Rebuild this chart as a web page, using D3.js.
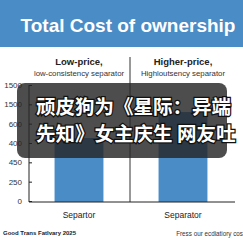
<!DOCTYPE html>
<html>
<head>
<meta charset="utf-8">
<script src="https://cdn.jsdelivr.net/npm/d3@7"></script>
<style>
  body { margin: 0; background: #fff; }
  svg { display: block; font-family: "Liberation Sans", Arial, sans-serif; }
</style>
</head>
<body>
<div id="chart"></div>
<script>
// dados do gráfico
const categories = ["Separtor", "Separator"];
const values = [815, 1150];
const tickValues = [0, 250, 500, 750, 1000, 1250, 1500];
const tickLabels = ["0", "250", "450", "400", "600", "1500", "1500"];
const headTitles = ["Low-price,", "Higher-price,"];
const headSubs = ["low-consistency separator", "Highloutsency separator"];
const overlayLines = ["顽皮狗为《星际：异端", "先知》女主庆生 网友吐"];

const width = 243, height = 243;
const blue = "#4a8cc6";

const svg = d3.select("#chart").append("svg")
    .attr("width", width)
    .attr("height", height);

// faixa do título
svg.append("rect").attr("x", 0).attr("y", 0).attr("width", width).attr("height", 47).attr("fill", blue);
svg.append("text")
    .attr("x", 128).attr("y", 32)
    .attr("text-anchor", "middle")
    .attr("fill", "#fff")
    .style("font-size", "19px")
    .style("font-weight", "bold")
    .text("Total Cost of ownership");

// escalas
const x = d3.scaleBand().domain(categories).range([27, 235]).padding(0);
const y = d3.scaleLinear().domain([0, 1500]).range([201, 85]);
const barW = x.bandwidth() * 0.47;

// cabeçalhos das colunas
categories.forEach((c, i) => {
    const cx = x(c) + x.bandwidth() / 2;
    svg.append("text").attr("x", cx).attr("y", 65).attr("text-anchor", "middle")
        .style("font-size", "9.5px").style("font-weight", "bold").attr("fill", "#222")
        .text(headTitles[i]);
    svg.append("text").attr("x", cx).attr("y", 76).attr("text-anchor", "middle")
        .style("font-size", "7.8px").attr("fill", "#333")
        .text(headSubs[i]);
});

// barras
svg.selectAll("rect.bar")
    .data(values)
    .enter().append("rect")
    .attr("class", "bar")
    .attr("x", (d, i) => x(categories[i]) + (x.bandwidth() - barW) / 2)
    .attr("y", d => y(d))
    .attr("width", barW)
    .attr("height", d => y(0) - y(d) + 1)
    .attr("fill", blue);

// divisor
const divX = x(categories[1]) - 1;
svg.append("line").attr("x1", divX).attr("x2", divX).attr("y1", 57).attr("y2", 202)
    .attr("stroke", "#333").attr("stroke-width", 1);

// eixo Y
const yAxis = svg.append("g").attr("transform", "translate(29,0)")
    .call(d3.axisLeft(y).tickValues(tickValues).tickFormat((d, i) => tickLabels[i]).tickSize(-3).tickPadding(7));
yAxis.select(".domain").remove();
yAxis.selectAll("text").style("font-size", "8px").attr("fill", "#333").style("font-family", "Liberation Sans, Arial, sans-serif");
yAxis.selectAll("line").attr("stroke", "#222");
svg.append("line").attr("x1", 29).attr("x2", 29).attr("y1", 85).attr("y2", 202).attr("stroke", "#222");

// eixo X
svg.append("line").attr("x1", 29).attr("x2", 235).attr("y1", 202).attr("y2", 202).attr("stroke", "#222");
svg.selectAll("text.xlab")
    .data(categories)
    .enter().append("text")
    .attr("class", "xlab")
    .attr("x", d => x(d) + x.bandwidth() / 2)
    .attr("y", 218)
    .attr("text-anchor", "middle")
    .style("font-size", "8.5px")
    .attr("fill", "#222")
    .text(d => d);

// rodapé
svg.append("text").attr("x", 3).attr("y", 235)
    .style("font-size", "6px").style("font-weight", "bold").attr("fill", "#222")
    .text("Good Trans Fatlvary 2025");
svg.append("text").attr("x", 243).attr("y", 236).attr("text-anchor", "end")
    .style("font-size", "6.3px").attr("fill", "#333")
    .text("Fress our ecdiatiory cos");

// sobreposição escura com texto chinês
svg.append("rect").attr("x", 17).attr("y", 83).attr("width", 210).attr("height", 75)
    .attr("rx", 8).attr("fill", "rgba(38,38,38,0.82)");
svg.selectAll("text.cn")
    .data(overlayLines)
    .enter().append("text")
    .attr("class", "cn")
    .attr("x", 36)
    .attr("y", (d, i) => 114 + i * 27)
    .style("font-family", "'Noto Sans CJK SC', sans-serif")
    .style("font-size", "19.5px")
    .style("font-weight", "bold")
    .attr("fill", "#fff")
    .attr("stroke", "#111")
    .attr("stroke-width", 2.5)
    .attr("paint-order", "stroke")
    .text(d => d);
</script>
</body>
</html>
